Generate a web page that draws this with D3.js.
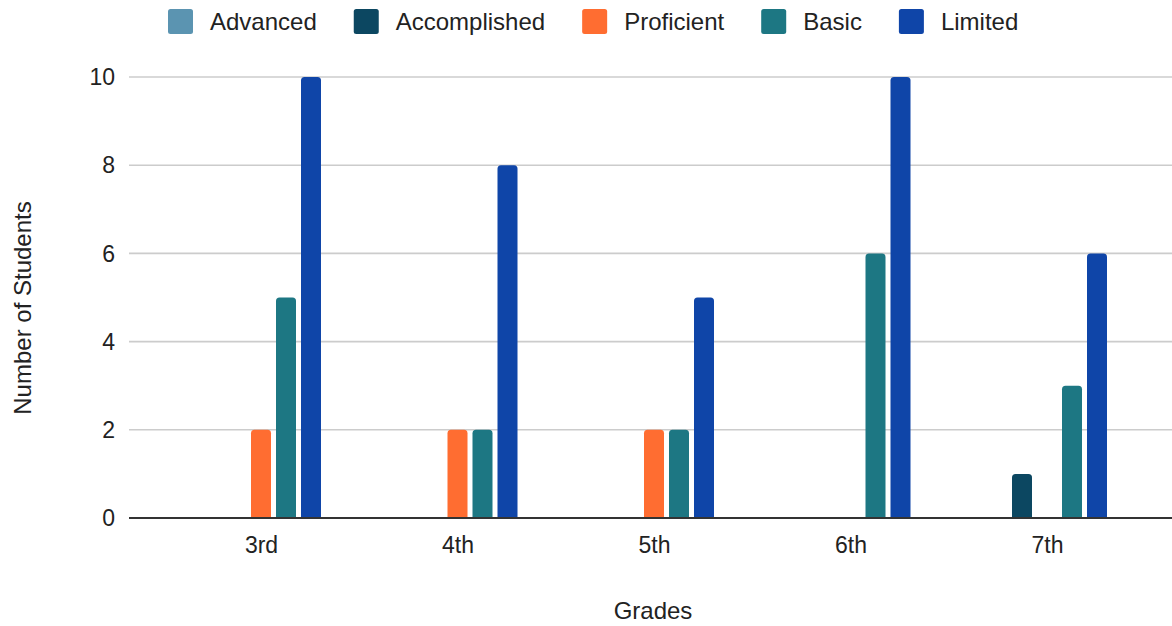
<!DOCTYPE html>
<html>
<head>
<meta charset="utf-8">
<script src="https://cdn.jsdelivr.net/npm/d3@7"></script>
<style>
  html, body { margin: 0; padding: 0; background: #fff; }
  svg { display: block; font-family: "Liberation Sans", Arial, sans-serif; }
</style>
</head>
<body>
<svg id="chart" width="1172" height="626"></svg>
<script>
// Student counts per performance level, by grade
const grades = ["3rd", "4th", "5th", "6th", "7th"];
const levels = ["Advanced", "Accomplished", "Proficient", "Basic", "Limited"];
const advanced     = [0, 0, 0, 0, 0];
const accomplished = [0, 0, 0, 0, 1];
const proficient   = [2, 2, 2, 0, 0];
const basic        = [5, 2, 2, 6, 3];
const limited      = [10, 8, 5, 10, 6];
const yTicks = [0, 2, 4, 6, 8, 10];
const levelColors = ["#5b94b1", "#0c4761", "#ff6d31", "#1d7783", "#0f45a8"];

const seriesValues = [advanced, accomplished, proficient, basic, limited];

const svg = d3.select("#chart");
const W = 1172, H = 626;
const plot = { left: 129, right: 1172, top: 77, bottom: 518 };

const y = d3.scaleLinear().domain([0, 10]).range([plot.bottom, plot.top]);
const x0 = d3.scaleBand().domain(grades).range([162.75, 1145.25]);
const x1 = d3.scaleBand().domain(levels).range([-62.5, 62.5])
  .paddingInner(0.2).paddingOuter(0.1);
const color = d3.scaleOrdinal().domain(levels).range(levelColors);

// Gridlines
svg.append("g")
  .selectAll("line")
  .data(yTicks.filter(t => t !== 0))
  .join("line")
  .attr("x1", plot.left).attr("x2", plot.right)
  .attr("y1", d => y(d)).attr("y2", d => y(d))
  .attr("stroke", "#cccccc").attr("stroke-width", 1.6);

// Y tick labels
svg.append("g")
  .selectAll("text")
  .data(yTicks)
  .join("text")
  .attr("x", 115).attr("y", d => y(d))
  .attr("dy", "0.36em")
  .attr("text-anchor", "end")
  .attr("font-size", 23)
  .attr("fill", "#222")
  .text(d => d);

// Bars with rounded top corners
function barPath(x, w, yTop, yBase, r) {
  const h = yBase - yTop;
  if (h <= 0) return "";
  const rr = Math.min(r, h, w / 2);
  return `M${x},${yBase}V${yTop + rr}Q${x},${yTop} ${x + rr},${yTop}` +
         `H${x + w - rr}Q${x + w},${yTop} ${x + w},${yTop + rr}V${yBase}Z`;
}

const rows = [];
grades.forEach((g, gi) => {
  levels.forEach((lv, li) => {
    rows.push({ grade: g, level: lv, value: seriesValues[li][gi] });
  });
});

const cx = g => x0(g) + x0.bandwidth() / 2;

svg.append("g")
  .selectAll("path")
  .data(rows.filter(d => d.value > 0))
  .join("path")
  .attr("d", d => barPath(cx(d.grade) + x1(d.level), x1.bandwidth(),
                          y(d.value), y(0), 3.5))
  .attr("fill", d => color(d.level));

// Baseline
svg.append("line")
  .attr("x1", plot.left).attr("x2", plot.right)
  .attr("y1", y(0)).attr("y2", y(0))
  .attr("stroke", "#333").attr("stroke-width", 2);

// X labels
const xAxis = d3.axisBottom(d3.scalePoint().domain(grades)
  .range([cx(grades[0]), cx(grades[grades.length - 1])]))
  .tickSize(0).tickPadding(0);
const xg = svg.append("g").attr("transform", `translate(0,${y(0)})`).call(xAxis);
xg.select(".domain").remove();
xg.selectAll("text")
  .attr("y", 35).attr("dy", 0)
  .attr("font-size", 23)
  .attr("font-family", "Liberation Sans, Arial, sans-serif")
  .attr("fill", "#222");

// Axis titles
svg.append("text")
  .attr("x", 653).attr("y", 619)
  .attr("text-anchor", "middle")
  .attr("font-size", 24).attr("fill", "#222")
  .text("Grades");

svg.append("text")
  .attr("transform", "translate(31,308) rotate(-90)")
  .attr("text-anchor", "middle")
  .attr("font-size", 24).attr("fill", "#222")
  .text("Number of Students");

// Legend
const legend = svg.append("g");
let lx = 168;
levels.forEach(lv => {
  legend.append("rect")
    .attr("x", lx).attr("y", 9)
    .attr("width", 25).attr("height", 25)
    .attr("rx", 2.5)
    .attr("fill", color(lv));
  const t = legend.append("text")
    .attr("x", lx + 42).attr("y", 29.5)
    .attr("font-size", 24).attr("fill", "#222")
    .text(lv);
  lx += 42 + t.node().getComputedTextLength() + 37;
});
</script>
</body>
</html>
